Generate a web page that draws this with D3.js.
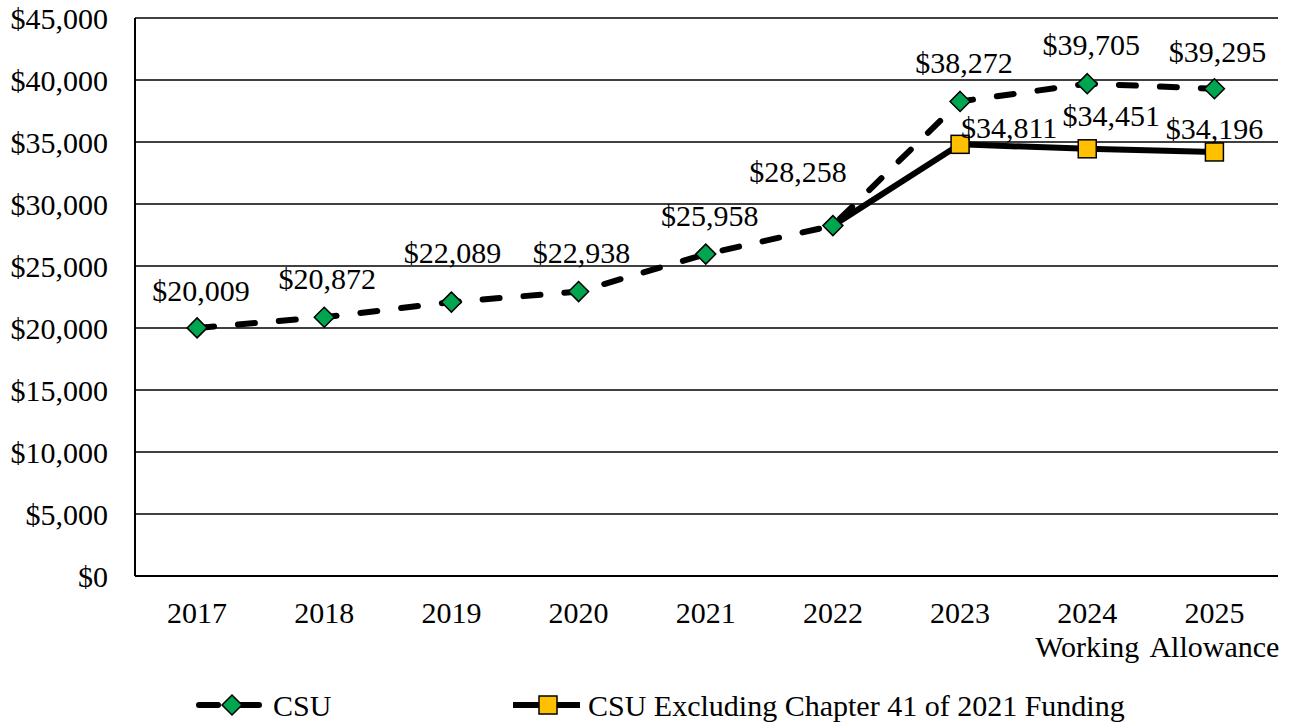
<!DOCTYPE html>
<html>
<head>
  <meta charset="utf-8">
  <title>CSU</title>
  <script src="https://cdn.jsdelivr.net/npm/d3@7"></script>
  <style>
    body { margin: 0; background: #fff; }
    text { font-family: "Liberation Serif", "Times New Roman", serif; fill: #000; }
  </style>
</head>
<body>
<script>
  // data
  const years = ["2017", "2018", "2019", "2020", "2021", "2022", "2023", "2024", "2025"];
  const yearSub = ["", "", "", "", "", "", "", "Working", "Allowance"];
  const csu = [20009, 20872, 22089, 22938, 25958, 28258, 38272, 39705, 39295];
  const csuExcl = [null, null, null, null, null, 28258, 34811, 34451, 34196];
  const exclLabelled = [false, false, false, false, false, false, true, true, true];
  const yTicks = [0, 5000, 10000, 15000, 20000, 25000, 30000, 35000, 40000, 45000];
  const seriesNames = ["CSU", "CSU Excluding Chapter 41 of 2021 Funding"];

  const W = 1289, H = 726;
  const plotL = 135, plotR = 1278, plotT = 18, plotB = 576;

  const svg = d3.select("body").append("svg")
    .attr("width", W)
    .attr("height", H);

  const x = d3.scaleBand().domain(years).range([plotL - 1.5, plotR]);
  const cx = d => x(d) + x.bandwidth() / 2;
  const y = d3.scaleLinear().domain([0, 45000]).range([plotB, plotT]);
  const fmt = d3.format("$,");

  // gridlines
  svg.append("g")
    .selectAll("line")
    .data(yTicks.filter(t => t > 0))
    .enter().append("line")
    .attr("x1", plotL).attr("x2", plotR)
    .attr("y1", d => y(d)).attr("y2", d => y(d))
    .attr("stroke", "#000").attr("stroke-width", 1.5);

  // y axis labels
  svg.append("g")
    .selectAll("text")
    .data(yTicks)
    .enter().append("text")
    .attr("x", 108)
    .attr("y", d => y(d))
    .attr("dy", "0.35em")
    .attr("text-anchor", "end")
    .attr("font-size", 30)
    .text(d => fmt(d));

  // axes lines
  svg.append("line").attr("x1", plotL).attr("x2", plotL).attr("y1", plotT).attr("y2", plotB)
    .attr("stroke", "#000").attr("stroke-width", 2);
  svg.append("line").attr("x1", plotL).attr("x2", plotR).attr("y1", plotB).attr("y2", plotB)
    .attr("stroke", "#000").attr("stroke-width", 2);

  // x labels
  const xl = svg.append("g").selectAll("g").data(years).enter().append("g");
  xl.append("text")
    .attr("x", d => cx(d)).attr("y", 623)
    .attr("text-anchor", "middle").attr("font-size", 30)
    .text(d => d);
  xl.append("text")
    .attr("x", d => cx(d)).attr("y", 657)
    .attr("text-anchor", "middle").attr("font-size", 30)
    .text((d, i) => yearSub[i]);

  // lines
  const lineGen = d3.line()
    .defined(d => d[1] != null)
    .x(d => cx(d[0]))
    .y(d => y(d[1]));

  svg.append("path")
    .datum(years.map((yr, i) => [yr, csuExcl[i]]))
    .attr("d", lineGen)
    .attr("fill", "none").attr("stroke", "#000")
    .attr("stroke-width", 6);

  svg.append("path")
    .datum(years.map((yr, i) => [yr, csu[i]]))
    .attr("d", lineGen)
    .attr("fill", "none").attr("stroke", "#000")
    .attr("stroke-width", 6)
    .attr("stroke-linecap", "round")
    .attr("stroke-dasharray", "17,24");

  // markers
  const diamond = (g, px, py) => g.append("path")
    .attr("d", `M${px},${py - 10}L${px + 10},${py}L${px},${py + 10}L${px - 10},${py}Z`)
    .attr("fill", "#00a550").attr("stroke", "#000").attr("stroke-width", 1.5);
  const square = (g, px, py) => g.append("rect")
    .attr("x", px - 9).attr("y", py - 9).attr("width", 18).attr("height", 18)
    .attr("fill", "#ffc000").attr("stroke", "#000").attr("stroke-width", 1.5);

  const mk = svg.append("g");
  years.forEach((yr, i) => {
    if (csuExcl[i] != null && exclLabelled[i]) square(mk, cx(yr), y(csuExcl[i]));
  });
  years.forEach((yr, i) => diamond(mk, cx(yr), y(csu[i])));

  // data labels (manual nudges to match the placement in the original)
  const csuNudge = [[4, -27], [3, -28], [1, -39], [3, -29], [4, -28], [-35, -44], [4, -28], [4, -29], [3, -27]];
  const exclNudge = [null, null, null, null, null, null, [49, -6], [24, -23], [0, -13]];
  const lbl = svg.append("g");
  years.forEach((yr, i) => {
    lbl.append("text")
      .attr("x", cx(yr) + csuNudge[i][0])
      .attr("y", y(csu[i]) + csuNudge[i][1])
      .attr("text-anchor", "middle").attr("font-size", 30)
      .text(fmt(csu[i]));
    if (exclLabelled[i]) {
      lbl.append("text")
        .attr("x", cx(yr) + exclNudge[i][0])
        .attr("y", y(csuExcl[i]) + exclNudge[i][1])
        .attr("text-anchor", "middle").attr("font-size", 30)
        .text(fmt(csuExcl[i]));
    }
  });

  // legend
  const leg = svg.append("g");
  leg.append("line").attr("x1", 199).attr("x2", 261).attr("y1", 705).attr("y2", 705)
    .attr("stroke", "#000").attr("stroke-width", 6).attr("stroke-linecap", "round")
    .attr("stroke-dasharray", "19,22");
  diamond(leg, 232, 705);
  leg.append("text").attr("x", 273).attr("y", 716).attr("font-size", 30).text(seriesNames[0]);

  leg.append("line").attr("x1", 513).attr("x2", 580).attr("y1", 705).attr("y2", 705)
    .attr("stroke", "#000").attr("stroke-width", 6);
  square(leg, 548, 705);
  leg.append("text").attr("x", 588).attr("y", 716).attr("font-size", 30).text(seriesNames[1]);
</script>
</body>
</html>
